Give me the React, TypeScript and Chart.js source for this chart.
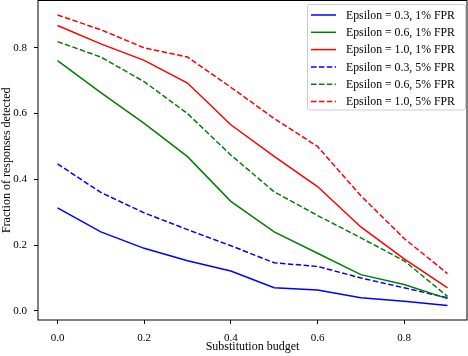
import React, { useEffect, useRef } from "react";
import { Chart, registerables } from "chart.js";

Chart.register(...registerables);

const budgets = [0, 0.1, 0.2, 0.3, 0.4, 0.5, 0.6, 0.7, 0.8, 0.9];
const eps03fpr1 = [0.313, 0.24, 0.19, 0.152, 0.121, 0.07, 0.063, 0.04, 0.029, 0.016];
const eps06fpr1 = [0.761, 0.664, 0.57, 0.469, 0.333, 0.24, 0.175, 0.11, 0.08, 0.037];
const eps10fpr1 = [0.868, 0.812, 0.762, 0.693, 0.566, 0.47, 0.378, 0.255, 0.158, 0.07];
const eps03fpr5 = [0.447, 0.36, 0.298, 0.247, 0.198, 0.146, 0.135, 0.1, 0.07, 0.04];
const eps06fpr5 = [0.819, 0.772, 0.697, 0.6, 0.474, 0.362, 0.29, 0.222, 0.152, 0.044];
const eps10fpr5 = [0.9, 0.855, 0.8, 0.772, 0.68, 0.585, 0.5, 0.35, 0.22, 0.113];

const seriesLabels = [
  "Epsilon = 0.3, 1% FPR",
  "Epsilon = 0.6, 1% FPR",
  "Epsilon = 1.0, 1% FPR",
  "Epsilon = 0.3, 5% FPR",
  "Epsilon = 0.6, 5% FPR",
  "Epsilon = 1.0, 5% FPR",
];
const xTicks = [0, 0.2, 0.4, 0.6, 0.8];
const yTicks = [0, 0.2, 0.4, 0.6, 0.8];

const BLUE = "#0000ff";
const GREEN = "#008000";
const RED = "#ff0000";
const DASH = [5.5, 2.4];
const FAMILY = "'Liberation Serif', 'DejaVu Serif', serif";
const FONT = { family: FAMILY, size: 12 };
const TICK_FONT = { family: FAMILY, size: 11 };

const framePlugin = {
  id: "frame",
  afterDatasetsDraw(chart: any) {
    const { ctx, chartArea: a } = chart;
    ctx.save();
    ctx.strokeStyle = "#000";
    ctx.lineWidth = 1;
    ctx.strokeRect(a.left, a.top, a.right - a.left, a.bottom - a.top);
    ctx.restore();
  },
};

const legendPlugin = {
  id: "innerLegend",
  afterDraw(chart: any) {
    const { ctx } = chart;
    const x0 = 307.5, y0 = 4.5, w = 158, h = 105.5;
    ctx.save();
    ctx.fillStyle = "rgba(255,255,255,0.85)";
    ctx.strokeStyle = "#cccccc";
    ctx.lineWidth = 1;
    ctx.beginPath();
    (ctx as any).roundRect(x0, y0, w, h, 2);
    ctx.fill();
    ctx.stroke();
    ctx.font = `11.8px ${FAMILY}`;
    ctx.textBaseline = "middle";
    ctx.fillStyle = "#000";
    chart.data.datasets.forEach((ds: any, i: number) => {
      const y = 15 + i * 17.3;
      ctx.strokeStyle = ds.borderColor;
      ctx.lineWidth = 1.5;
      ctx.setLineDash(ds.borderDash || []);
      ctx.beginPath();
      ctx.moveTo(311, y);
      ctx.lineTo(336, y);
      ctx.stroke();
      ctx.setLineDash([]);
      ctx.fillText(ds.label, 346, y + 0.5);
    });
    ctx.restore();
  },
};

export default function App() {
  const ref = useRef<HTMLCanvasElement>(null);
  useEffect(() => {
    document.body.style.margin = "0";
    const mk = (label: string, data: number[], color: string, dashed: boolean) => ({
      label,
      data: data.map((v, i) => ({ x: budgets[i], y: v })),
      borderColor: color,
      backgroundColor: color,
      borderWidth: 1.5,
      borderDash: dashed ? DASH : [],
      pointRadius: 0,
      tension: 0,
      fill: false,
    });
    const chart = new Chart(ref.current as HTMLCanvasElement, {
      type: "line",
      data: {
        datasets: [
          mk(seriesLabels[0], eps03fpr1, BLUE, false),
          mk(seriesLabels[1], eps06fpr1, GREEN, false),
          mk(seriesLabels[2], eps10fpr1, RED, false),
          mk(seriesLabels[3], eps03fpr5, BLUE, true),
          mk(seriesLabels[4], eps06fpr5, GREEN, true),
          mk(seriesLabels[5], eps10fpr5, RED, true),
        ],
      },
      options: {
        responsive: false,
        animation: false,
        layout: { padding: { top: 0.5, right: 1, left: 0, bottom: 0 } },
        plugins: { legend: { display: false }, tooltip: { enabled: false } },
        scales: {
          x: {
            type: "linear",
            min: -0.045,
            max: 0.945,
            afterBuildTicks: (s: any) => {
              s.ticks = xTicks.map((v) => ({ value: v }));
            },
            afterFit: (s: any) => {
              s.height = 36;
              s.paddingLeft = 0;
              s.paddingRight = 0;
            },
            ticks: {
              color: "#000",
              font: TICK_FONT,
              padding: 8,
              maxRotation: 0,
              callback: (v: any) => Number(v).toFixed(1),
            },
            grid: { drawOnChartArea: false, drawTicks: true, tickLength: 4, color: "#000" },
            border: { display: false },
            title: {
              display: true,
              text: "Substitution budget",
              color: "#000",
              font: FONT,
              padding: { top: 0, bottom: 2 },
            },
          },
          y: {
            type: "linear",
            min: -0.028,
            max: 0.944,
            afterBuildTicks: (s: any) => {
              s.ticks = yTicks.map((v) => ({ value: v }));
            },
            afterFit: (s: any) => {
              s.width = 38;
              s.paddingTop = 0;
              s.paddingBottom = 0;
            },
            ticks: {
              color: "#000",
              font: TICK_FONT,
              padding: 7,
              callback: (v: any) => Number(v).toFixed(1),
            },
            grid: { drawOnChartArea: false, drawTicks: true, tickLength: 4, color: "#000" },
            border: { display: false },
            title: {
              display: true,
              text: "Fraction of responses detected",
              color: "#000",
              font: FONT,
              padding: { top: 0, bottom: 0 },
            },
          },
        },
      },
      plugins: [framePlugin, legendPlugin],
    } as any);
    return () => chart.destroy();
  }, []);
  return (
    <div style={{ width: 468, height: 356 }}>
      <canvas ref={ref} width={468} height={356} />
    </div>
  );
}
